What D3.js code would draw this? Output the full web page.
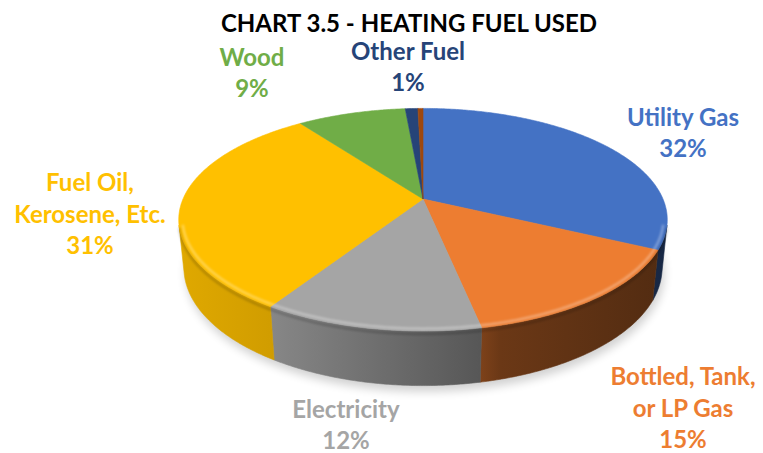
<!DOCTYPE html>
<html>
<head>
<meta charset="utf-8">
<script src="https://cdn.jsdelivr.net/npm/d3@7"></script>
<style>
  html, body { margin: 0; padding: 0; background: #fff; }
  svg { display: block; }
</style>
</head>
<body>
<svg id="chart" width="763" height="453"></svg>
<script>
// ---- data ----
const categories = ["Utility Gas", "Bottled, Tank, or LP Gas", "Electricity", "Fuel Oil, Kerosene, Etc.", "Wood", "Other Fuel", "No Fuel Used"];
const values = [32.2, 14.6, 12.2, 31.0, 8.6, 1.0, 0.4];
const labelLines = [["Utility Gas"], ["Bottled, Tank,", "or LP Gas"], ["Electricity"], ["Fuel Oil,", "Kerosene, Etc."], ["Wood"], ["Other Fuel"], []];
const colors = ["#4472C4", "#ED7D31", "#A5A5A5", "#FFC000", "#70AD47", "#264478", "#9E480E"];
const title = "CHART 3.5 - HEATING FUEL USED";

// ---- layout (kept apart from data) ----
const W = 763, H = 453;
const cx = 423, cy = 199, F = 1152, D = 4.8, T = 0.225;
const alpha = 26.6 * Math.PI / 180;
const labelAnchors = [[683, 133], [683, 408], [346, 425], [90, 214], [252, 73], [408, 67], null];
const fontFamily = "Lato, 'Open Sans', sans-serif";
const labelSize = 24, lineGap = 31.5;

const svg = d3.select("#chart");
const defs = svg.append("defs");

const sinA = Math.sin(alpha), cosA = Math.cos(alpha);
function proj(a, r, z) {
  const u = r * Math.sin(a), v = -r * Math.cos(a);
  const yc = -v * sinA + z * cosA;
  const depth = D - v * cosA - z * sinA;
  return [cx + F * u / depth, cy - F * yc / depth];
}
function arcPts(a0, a1, r, z) {
  const n = Math.max(2, Math.ceil(Math.abs(a1 - a0) / (Math.PI / 360)));
  return d3.range(n + 1).map(i => proj(a0 + (a1 - a0) * i / n, r, z));
}
const line = d3.line();

const pie = d3.pie().sort(null).value(d => d)(values);
const aMin = Math.acos(-1 / (D * cosA));
const aMax = 2 * Math.PI - aMin;

// shadow
const shadowF = defs.append("filter").attr("id", "shadow").attr("x", "-20%").attr("y", "-20%").attr("width", "140%").attr("height", "140%");
shadowF.append("feGaussianBlur").attr("stdDeviation", 5);
svg.append("path")
  .attr("d", line(arcPts(0, 2 * Math.PI, 1.0, -T)) + "Z")
  .attr("transform", "translate(2,6)")
  .attr("fill", "#000").attr("opacity", 0.18)
  .attr("filter", "url(#shadow)");

// side gradients
const shadeStops = [[175, 0.88], [270, 0.82], [480, 0.53], [500, 0.45], [672, 0.34]];
function shade(c, f) { const r = d3.rgb(c); return d3.rgb(r.r * f, r.g * f, r.b * f).formatHex(); }
colors.forEach((c, i) => {
  const g = defs.append("linearGradient").attr("id", "side" + i)
    .attr("gradientUnits", "userSpaceOnUse").attr("x1", 175).attr("x2", 672).attr("y1", 0).attr("y2", 0);
  shadeStops.forEach(([x, f]) => g.append("stop").attr("offset", (x - 175) / (672 - 175)).attr("stop-color", shade(c, f)));
});

// sides
const sides = svg.append("g");
pie.forEach((d, i) => {
  const lo = Math.max(d.startAngle, aMin), hi = Math.min(d.endAngle, aMax);
  if (hi <= lo) return;
  const pts = arcPts(lo, hi, 1, 0).concat(arcPts(hi, lo, 1, -T));
  sides.append("path").attr("d", line(pts) + "Z")
    .attr("fill", `url(#side${i})`)
    .attr("stroke", `url(#side${i})`).attr("stroke-width", 0.6);
});

// top faces
const tops = svg.append("g");
pie.forEach((d, i) => {
  const pts = [proj(0, 0, 0)].concat(arcPts(d.startAngle, d.endAngle, 1, 0));
  tops.append("path").attr("d", line(pts) + "Z")
    .attr("fill", colors[i]).attr("stroke", colors[i]).attr("stroke-width", 0.6);
});

// bevel highlight along front rim
const blurF = defs.append("filter").attr("id", "soft");
blurF.append("feGaussianBlur").attr("stdDeviation", 1.2);
svg.append("path")
  .attr("d", line(arcPts(aMin, aMax, 0.985, 0)))
  .attr("fill", "none").attr("stroke", "#fff").attr("stroke-opacity", 0.3)
  .attr("stroke-width", 2.5).attr("filter", "url(#soft)");
svg.append("path")
  .attr("d", line(arcPts(aMin, aMax, 1.0, -0.012)))
  .attr("fill", "none").attr("stroke", "#000").attr("stroke-opacity", 0.18)
  .attr("stroke-width", 2.5).attr("filter", "url(#soft)");

// labels
const labels = svg.append("g").attr("font-family", fontFamily).attr("font-weight", 700)
  .attr("font-size", labelSize).attr("text-anchor", "middle");
pie.forEach((d, i) => {
  if (!labelAnchors[i]) return;
  const lines = labelLines[i].concat([Math.round(values[i]) + "%"]);
  const [x, yc] = labelAnchors[i];
  const y0 = yc - (lines.length - 1) * lineGap / 2;
  const t = labels.append("text").attr("fill", colors[i]);
  lines.forEach((s, k) => {
    t.append("tspan").attr("x", x).attr("y", y0 + k * lineGap + labelSize * 0.36).text(s);
  });
});

// title
svg.append("text").attr("x", 409).attr("y", 32)
  .attr("text-anchor", "middle").attr("font-family", fontFamily).attr("font-weight", 700)
  .attr("font-size", 24).attr("fill", "#000").text(title);
</script>
</body>
</html>
